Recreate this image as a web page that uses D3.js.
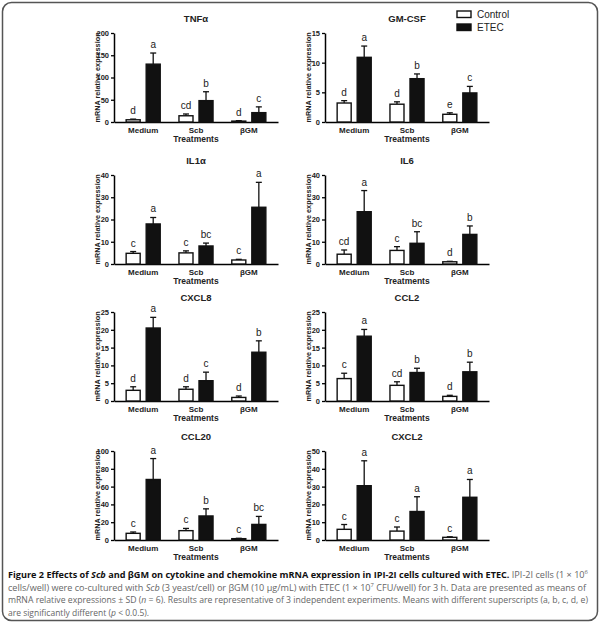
<!DOCTYPE html>
<html>
<head>
<meta charset="utf-8">
<script src="https://cdn.jsdelivr.net/npm/d3@7"></script>
<style>
  body { margin: 0; background: #fff; }
  svg { display: block; }
</style>
</head>
<body>
<div id="chart"></div>
<script>
let width = 600;
let height = 625;

// panels, left to right then top to bottom
let panels = ["TNFα", "GM-CSF", "IL1α", "IL6", "CXCL8", "CCL2", "CCL20", "CXCL2"];
let yMax = [200, 15, 40, 40, 25, 25, 100, 50];
let yStep = [50, 5, 10, 10, 5, 5, 20, 10];
let treatments = ["Medium", "Scb", "βGM"];
let groups = ["Control", "ETEC"];

// means and SD per panel, one value per treatment
let controlMean = [[5, 14, 2], [3.2, 3.0, 1.3], [4.8, 5, 1.8], [4.4, 6.1, 1], [3.0, 3.3, 1.0], [6.3, 4.4, 1.3], [7.5, 10.5, 1.5], [6.0, 5.0, 1.5]];
let controlSD = [[1.5, 4, 1], [0.4, 0.4, 0.25], [0.8, 0.9, 0.3], [1.9, 1.7, 0.2], [1.0, 0.7, 0.4], [1.5, 1.0, 0.3], [1.5, 2.5, 0.4], [2.7, 2.3, 0.3]];
let etecMean = [[130, 48, 21], [10.9, 7.3, 4.9], [18, 8.1, 25.5], [23.5, 9.3, 13.3], [20.5, 5.7, 13.7], [18.2, 8.0, 8.2], [68, 27, 17.5], [30.5, 16, 24]];
let etecSD = [[25, 20, 13], [1.9, 0.8, 1.1], [2.9, 1.3, 11.2], [9.5, 5.2, 3.8], [3.0, 2.4, 3.2], [1.9, 1.2, 2.7], [23.5, 8, 9], [14, 8.3, 10]];
let controlLetters = [["d", "cd", "d"], ["d", "d", "e"], ["c", "c", "c"], ["cd", "c", "d"], ["d", "d", "d"], ["c", "cd", "d"], ["c", "c", "c"], ["c", "c", "c"]];
let etecLetters = [["a", "b", "c"], ["a", "b", "c"], ["a", "bc", "a"], ["a", "bc", "b"], ["a", "c", "b"], ["a", "b", "b"], ["a", "b", "bc"], ["a", "a", "a"]];

let font = "Arial, 'Liberation Sans', sans-serif";
let colLeft = [114, 325];
let rowTop = [33, 175, 312, 451];
let plotW = 164;
let plotH = 89;

let svg = d3.select("#chart")
  .append("svg")
  .attr("width", width)
  .attr("height", height);

svg.append("rect")
  .attr("x", 2.5)
  .attr("y", 2.5)
  .attr("width", 595)
  .attr("height", 618)
  .attr("rx", 9)
  .attr("fill", "#fff")
  .attr("stroke", "#555")
  .attr("stroke-width", 1.5);

panels.forEach((name, p) => {
  let left = colLeft[p % 2];
  let top = rowTop[Math.floor(p / 2)];
  let g = svg.append("g").attr("transform", `translate(${left},${top})`);

  let x0 = d3.scaleBand()
    .domain(treatments)
    .range([0, plotW])
    .paddingInner(0.355)
    .paddingOuter(0.23);

  let x1 = d3.scaleBand()
    .domain(groups)
    .range([0, x0.bandwidth()])
    .paddingInner(0.3);

  let y = d3.scaleLinear()
    .domain([0, yMax[p]])
    .range([plotH, 0]);

  // y axis
  let yAxis = g.append("g")
    .call(d3.axisLeft(y).tickValues(d3.range(0, yMax[p] + 0.001, yStep[p])).tickSize(3).tickPadding(2).tickSizeOuter(0));
  yAxis.select(".domain").attr("stroke-width", 1.5);
  yAxis.selectAll(".tick line").attr("stroke-width", 1.3);
  yAxis.selectAll("text")
    .attr("font-family", font)
    .attr("font-size", 7.5)
    .attr("font-weight", "bold")
    .attr("fill", "#222");

  // x axis line
  let xAxis = g.append("g")
    .attr("transform", `translate(0,${plotH})`)
    .call(d3.axisBottom(x0).tickSize(0).tickPadding(5));
  xAxis.select(".domain").attr("stroke-width", 1.5);
  xAxis.selectAll("text")
    .attr("font-family", font)
    .attr("font-size", 8)
    .attr("font-weight", "bold")
    .attr("fill", "#222");

  g.append("text")
    .attr("x", plotW / 2)
    .attr("y", plotH + 20)
    .attr("text-anchor", "middle")
    .attr("font-family", font)
    .attr("font-size", 8.5)
    .attr("font-weight", "bold")
    .attr("fill", "#222")
    .text("Treatments");

  g.append("text")
    .attr("transform", `translate(-14,${plotH / 2}) rotate(-90)`)
    .attr("text-anchor", "middle")
    .attr("font-family", font)
    .attr("font-size", 7.3)
    .attr("font-weight", "bold")
    .attr("fill", "#222")
    .text("mRNA relative expression");

  g.append("text")
    .attr("x", plotW / 2)
    .attr("y", -11)
    .attr("text-anchor", "middle")
    .attr("font-family", font)
    .attr("font-size", 9.5)
    .attr("font-weight", "bold")
    .attr("fill", "#222")
    .text(name);

  let bars = treatments.flatMap((t, i) => [
    { t, group: "Control", mean: controlMean[p][i], sd: controlSD[p][i], letter: controlLetters[p][i] },
    { t, group: "ETEC", mean: etecMean[p][i], sd: etecSD[p][i], letter: etecLetters[p][i] }
  ]);

  let bar = g.selectAll(".bar")
    .data(bars)
    .enter()
    .append("g")
    .attr("transform", d => `translate(${x0(d.t) + x1(d.group)},0)`);

  // error bars first so the bar outline sits on top
  bar.append("line")
    .attr("x1", x1.bandwidth() / 2)
    .attr("x2", x1.bandwidth() / 2)
    .attr("y1", d => y(d.mean))
    .attr("y2", d => y(d.mean + d.sd))
    .attr("stroke", "#111")
    .attr("stroke-width", 1.3);

  bar.append("line")
    .attr("x1", x1.bandwidth() / 2 - 3)
    .attr("x2", x1.bandwidth() / 2 + 3)
    .attr("y1", d => y(d.mean + d.sd))
    .attr("y2", d => y(d.mean + d.sd))
    .attr("stroke", "#111")
    .attr("stroke-width", 1.3);

  bar.append("rect")
    .attr("x", 0)
    .attr("y", d => y(d.mean))
    .attr("width", x1.bandwidth())
    .attr("height", d => plotH - y(d.mean))
    .attr("fill", d => d.group === "Control" ? "#fff" : "#111")
    .attr("stroke", "#111")
    .attr("stroke-width", 1.4);

  bar.append("text")
    .attr("x", x1.bandwidth() / 2)
    .attr("y", d => y(d.mean + d.sd) - 5)
    .attr("text-anchor", "middle")
    .attr("font-family", font)
    .attr("font-size", 10)
    .attr("fill", "#222")
    .text(d => d.letter);
});

// legend
let legend = svg.append("g").attr("transform", "translate(457,11)");
groups.forEach((gname, i) => {
  legend.append("rect")
    .attr("x", 0)
    .attr("y", i * 13)
    .attr("width", 14)
    .attr("height", 6.5)
    .attr("fill", gname === "Control" ? "#fff" : "#111")
    .attr("stroke", "#111")
    .attr("stroke-width", 1.4);
  legend.append("text")
    .attr("x", 20)
    .attr("y", i * 13 + 7)
    .attr("font-family", font)
    .attr("font-size", 10)
    .attr("fill", "#222")
    .text(gname);
});

// caption
let capFont = "'Open Sans', 'Noto Sans', sans-serif";
let capLines = [
  [["Figure 2 Effects of ", "b"], ["Scb", "bi"], [" and βGM on cytokine and chemokine mRNA expression in IPI-2I cells cultured with ETEC.", "b"], [" IPI-2I cells (1 × 10", "n"], ["6", "sup"]],
  [["cells/well) were co-cultured with ", "n"], ["Scb", "i"], [" (3 yeast/cell) or βGM (10 μg/mL) with ETEC (1 × 10", "n"], ["7", "sup"], [" CFU/well) for 3 h. Data are presented as means of", "n"]],
  [["mRNA relative expressions ± SD (", "n"], ["n", "i"], [" = 6). Results are representative of 3 independent experiments. Means with different superscripts (a, b, c, d, e)", "n"]],
  [["are significantly different (", "n"], ["p", "i"], [" < 0.0.5).", "n"]]
];
let capWidth = [580, 578, 580, null];

capLines.forEach((parts, i) => {
  let t = svg.append("text")
    .attr("x", 8)
    .attr("y", 578 + i * 12.5)
    .attr("font-family", capFont)
    .attr("font-size", 8.5)
    .attr("fill", "#666");
  if (capWidth[i]) t.attr("textLength", capWidth[i]).attr("lengthAdjust", "spacingAndGlyphs");
  parts.forEach(([s, style]) => {
    let span = t.append("tspan").text(s);
    if (style === "b" || style === "bi") span.attr("font-weight", "bold").attr("fill", "#111");
    if (style === "i" || style === "bi") span.attr("font-style", "italic");
    if (style === "sup") span.attr("baseline-shift", "super").attr("font-size", 5.5);
  });
});
</script>
</body>
</html>
